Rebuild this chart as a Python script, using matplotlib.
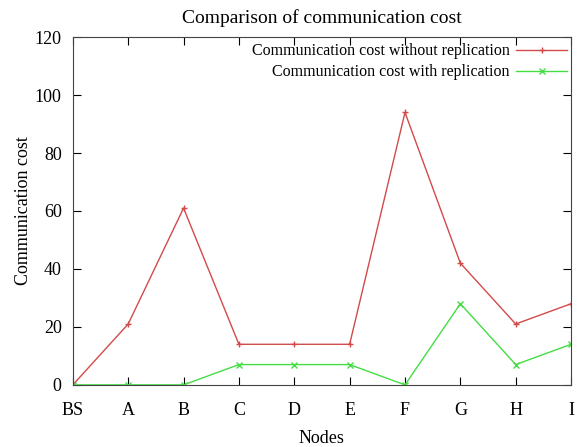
import numpy as np
import matplotlib
matplotlib.use('Agg')
import matplotlib.pyplot as plt

plt.rcParams['font.family'] = 'Liberation Serif'

nodes = ["BS", "A", "B", "C", "D", "E", "F", "G", "H", "I"]
cost_without = [0, 21, 61, 14, 14, 14, 94, 42, 21, 28]
cost_with = [0, 0, 0, 7, 7, 7, 0, 28, 7, 14]

x = np.arange(len(nodes))

fig = plt.figure(figsize=(5.78, 4.47), dpi=100)
ax = fig.add_axes([0.126, 0.139, 0.862, 0.778])

ax.plot(x, cost_without, color='#d24a4a', lw=1.0, marker='+', ms=5, mew=1.0,
        label='Communication cost without replication')
ax.plot(x, cost_with, color='#44dd44', lw=1.0, marker='x', ms=4, mew=1.0,
        label='Communication cost with replication')

ax.set_xlim(0, len(nodes) - 1)
ax.set_ylim(0, 120)
ax.set_xticks(x, nodes)
ax.set_yticks(np.arange(0, 121, 20))
ax.tick_params(direction='in', top=True, right=True, length=6, labelsize=13, pad=8)
ax.tick_params(axis='x', pad=12)
for s in ax.spines.values():
    s.set_color('#444444')

ax.set_xlabel('Nodes', fontsize=13, labelpad=8)
ax.set_ylabel('Communication cost', fontsize=13, labelpad=2)
ax.set_title('Comparison of communication cost', fontsize=14, pad=10)

ax.legend(loc='upper right', frameon=False, markerfirst=False, fontsize=11.5,
          handlelength=3.2, borderaxespad=0.0, labelspacing=0.3, handletextpad=0.4,
          bbox_to_anchor=(1.005, 1.0))

fig.savefig('out.png', dpi=100)
